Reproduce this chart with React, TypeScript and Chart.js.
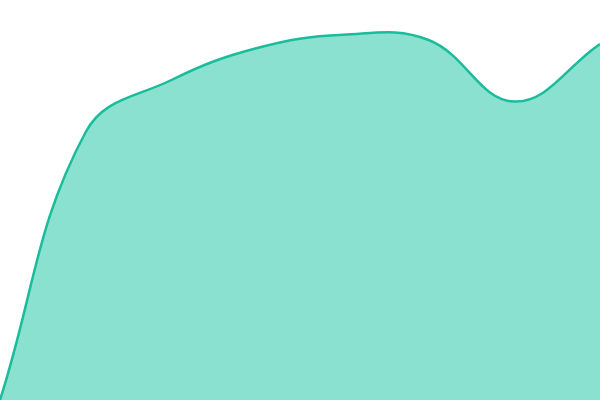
import React, { useEffect, useRef } from "react";
import { Chart, registerables } from "chart.js";

Chart.register(...registerables);

const labels = ["1", "2", "3", "4", "5", "6", "7", "8"];
const values = [0, 67, 80, 88, 91.3, 90, 74.6, 89];
const yMin = 0;
const yMax = 100;

export default function App() {
  const ref = useRef<HTMLCanvasElement | null>(null);
  useEffect(() => {
    document.body.style.margin = "0";
    const chart = new Chart(ref.current!, {
      type: "line",
      data: {
        labels,
        datasets: [
          {
            data: values,
            borderColor: "#1abc9c",
            backgroundColor: "rgba(22,196,160,0.5)",
            borderWidth: 2.5,
            fill: true,
            tension: 0.4,
            pointRadius: 0,
          },
        ],
      },
      options: {
        animation: false,
        responsive: false,
        maintainAspectRatio: false,
        layout: { padding: 0 },
        plugins: { legend: { display: false }, tooltip: { enabled: false } },
        scales: {
          x: { display: false, offset: false },
          y: { display: false, min: yMin, max: yMax },
        },
      },
    });
    return () => chart.destroy();
  }, []);
  return (
    <div style={{ width: 600, height: 400 }}>
      <canvas ref={ref} width={600} height={400} style={{ display: "block" }} />
    </div>
  );
}
